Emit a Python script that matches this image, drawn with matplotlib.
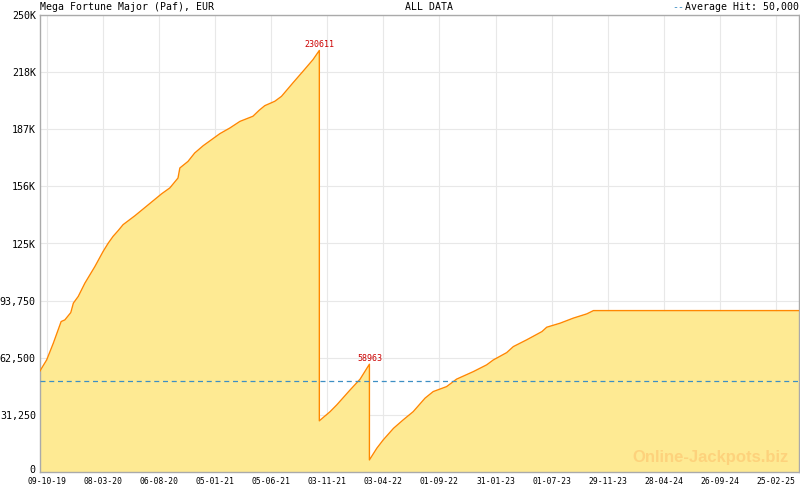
import matplotlib
matplotlib.use("Agg")
import matplotlib.pyplot as plt
import matplotlib.dates as mdates
import matplotlib.transforms as mtransforms
import numpy as np
from datetime import datetime

# --- datos del jackpot ---
fechas = ["2019-09-21", "2019-10-09", "2019-10-27", "2019-11-17", "2019-11-27",
          "2019-12-13", "2019-12-20", "2020-01-02", "2020-01-20", "2020-02-16",
          "2020-03-09", "2020-03-23", "2020-04-05", "2020-04-19", "2020-05-02",
          "2020-06-03", "2020-07-09", "2020-08-14", "2020-09-05", "2020-09-27",
          "2020-10-02", "2020-10-24", "2020-11-11", "2020-12-04", "2021-01-18",
          "2021-02-14", "2021-03-13", "2021-04-17", "2021-05-04", "2021-05-19",
          "2021-06-15", "2021-07-03", "2021-08-03", "2021-08-30", "2021-09-26",
          "2021-10-13", "2021-10-13",
          "2021-11-11", "2021-11-29", "2022-01-04", "2022-01-31", "2022-02-25",
          "2022-02-25",
          "2022-03-17", "2022-04-03", "2022-05-01", "2022-05-27", "2022-06-23",
          "2022-07-25", "2022-08-16", "2022-09-21", "2022-10-18", "2022-12-02",
          "2023-01-07", "2023-01-25", "2023-03-02", "2023-03-20", "2023-04-25",
          "2023-06-05", "2023-06-18", "2023-07-24", "2023-08-29", "2023-10-04",
          "2023-10-22", "2025-04-28"]
valores = [55300, 61300, 70500, 82300, 83200,
           87200, 92400, 96000, 103300, 112400,
           120600, 125200, 128900, 132100, 135300,
           140200, 146200, 152200, 155400, 160800,
           166300, 169900, 174500, 178500, 185100,
           188200, 191800, 194600, 197900, 200400,
           202800, 205500, 212900, 219200, 225600,
           230611, 28000,
           33000, 36700, 44900, 50800, 58963,
           6600,
           13000, 17500, 23900, 28500, 33000,
           40400, 44000, 46700, 50800, 54900,
           58600, 61300, 65300, 68600, 72300,
           76800, 79200, 81400, 84200, 86500,
           88300, 88300]

picos_fecha = ["2021-10-13", "2022-02-25"]
picos_valor = [230611, 58963]
promedio = 50000

ticks_y = [0, 31250, 62500, 93750, 125000, 156250, 187500, 218750, 250000]
ticks_y_txt = ["0", "31,250", "62,500", "93,750", "125K", "156K", "187K", "218K", "250K"]
ticks_x_txt = ["09-10-19", "08-03-20", "06-08-20", "05-01-21", "05-06-21",
               "03-11-21", "03-04-22", "01-09-22", "31-01-23", "01-07-23",
               "29-11-23", "28-04-24", "26-09-24", "25-02-25"]

fuente = "DejaVu Sans Mono"
gris = "#aaaaaa"

x = mdates.date2num([datetime.strptime(f, "%Y-%m-%d") for f in fechas])
xt = mdates.date2num([datetime.strptime(f, "%d-%m-%y") for f in ticks_x_txt])
xp = mdates.date2num([datetime.strptime(f, "%Y-%m-%d") for f in picos_fecha])

fig = plt.figure(figsize=(8, 4.9), dpi=100)
ax = fig.add_axes([40 / 800, 18 / 490, 759 / 800, 457 / 490])

ax.fill_between(x, valores, 0, color="#feea93", lw=0, zorder=2)
ax.plot(x, valores, color="#ff8800", lw=1, zorder=3)
ax.axhline(promedio, color="#3d8fc4", lw=0.9, ls=(0, (4, 3)), zorder=4)

for fx, v in zip(xp, picos_valor):
    ax.annotate(str(v), (fx, v), xytext=(0, 1), textcoords="offset points",
                ha="center", va="bottom", color="#cc0000", fontsize=6,
                family=fuente, zorder=5)

ax.set_xlim(x[0], x[-1])
ax.set_ylim(0, 250000)

ax.set_yticks(ticks_y)
ax.set_yticklabels(ticks_y_txt, family=fuente, fontsize=7.2)
ax.set_xticks(xt)
ax.set_xticklabels(ticks_x_txt, family=fuente, fontsize=5.8)
paso = (xt[-1] - xt[0]) / (len(xt) - 1) / 7
menores = np.arange(xt[0] - 7 * paso, x[-1], paso)
menores = menores[(menores > x[0]) & (menores < x[-1])]
ax.set_xticks(menores, minor=True)

ax.tick_params(axis="y", length=0, pad=3)
ax.tick_params(axis="x", which="major", direction="in", length=4.3, color=gris, pad=3.5)
ax.tick_params(axis="x", which="minor", direction="in", length=2.2, color=gris)

# el "0" un poco arriba para no pisar la primera fecha
cero = ax.get_yticklabels()[0]
cero.set_transform(cero.get_transform() +
                   mtransforms.ScaledTranslation(0, 3 / 100, fig.dpi_scale_trans))

ax.grid(True, which="major", color="#e8e8e8", lw=0.8)
ax.set_axisbelow(True)
for s in ax.spines.values():
    s.set_color(gris)
    s.set_linewidth(1)

# titulos de arriba
fig.text(40 / 800, 483 / 490, "Mega Fortune Major (Paf), EUR", family=fuente,
         fontsize=7.1, va="center", ha="left")
fig.text(429 / 800, 483 / 490, "ALL DATA", family=fuente, fontsize=7.1,
         va="center", ha="center")
fig.text(799 / 800, 483 / 490, "Average Hit: 50,000", family=fuente, fontsize=7.1,
         va="center", ha="right")
fig.text(684 / 800, 483 / 490, "--", family=fuente, fontsize=7.1,
         va="center", ha="right", color="#3d8fc4")

# marca de agua
fig.text(789 / 800, 33 / 490, "Online-Jackpots.biz", family="Liberation Sans",
         fontweight="bold", fontsize=12, color="#fdd27c", ha="right", va="center")

fig.savefig("out.png", dpi=100)
